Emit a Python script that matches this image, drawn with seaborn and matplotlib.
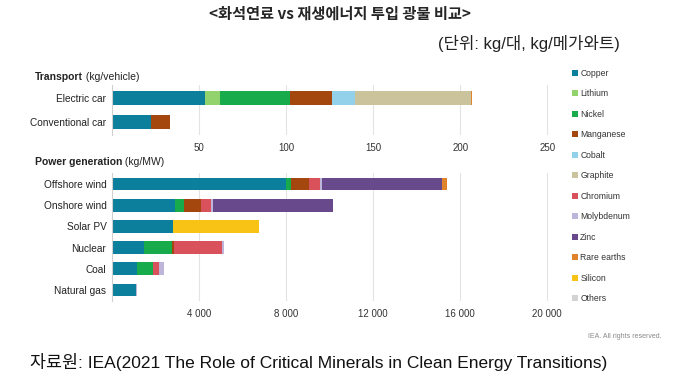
import numpy as np
import seaborn as sns
import matplotlib.pyplot as plt
from matplotlib.patches import Patch
from matplotlib.ticker import FuncFormatter

sns.set_theme(style='white')
plt.rcParams['font.family'] = ['Liberation Sans', 'Noto Sans CJK KR', 'DejaVu Sans']

minerals = ['Copper', 'Lithium', 'Nickel', 'Manganese', 'Cobalt', 'Graphite',
            'Chromium', 'Molybdenum', 'Zinc', 'Rare earths', 'Silicon', 'Others']
mineral_colors = ['#0b7f9b', '#92d36e', '#17ab4b', '#a3470f', '#92d1e9', '#cbc39b',
                  '#d9515b', '#bdb6da', '#684a8c', '#e0832c', '#f8c315', '#d3d3d3']

# Transport (kg/vehicle)
transport_cats = ['Electric car', 'Conventional car']
transport = {
    'Copper': [53.2, 22.3],
    'Lithium': [8.9, 0],
    'Nickel': [39.9, 0],
    'Manganese': [24.5, 11.2],
    'Cobalt': [13.3, 0],
    'Graphite': [66.3, 0],
    'Rare earths': [0.8, 0],
}

# Power generation (kg/MW)
power_cats = ['Offshore wind', 'Onshore wind', 'Solar PV', 'Nuclear', 'Coal', 'Natural gas']
power = {
    'Copper': [8000, 2900, 2822, 1473, 1150, 1100],
    'Nickel': [240, 404, 0, 1297, 721, 16],
    'Manganese': [790, 780, 0, 100, 0, 0],
    'Chromium': [525, 470, 0, 2190, 308, 0],
    'Molybdenum': [109, 99, 0, 70, 200, 30],
    'Zinc': [5500, 5500, 0, 0, 0, 0],
    'Rare earths': [239, 14, 0, 0, 0, 0],
    'Silicon': [0, 0, 3928, 0, 0, 0],
}

transport_ticks = [50, 100, 150, 200, 250]
power_ticks = [4000, 8000, 12000, 16000, 20000]

palette = dict(zip(minerals, mineral_colors))


def draw_stack(ax, cats, parts, bar_w):
    # cumulative totals, drawn longest first so shorter ones sit on top
    cum = np.zeros(len(cats))
    layers = []
    for m in minerals:
        if m in parts:
            cum = cum + np.array(parts[m], dtype=float)
            layers.append((m, cum.copy()))
    for m, c in reversed(layers):
        sns.barplot(x=c, y=cats, color=palette[m], saturation=1, width=bar_w,
                    orient='h', linewidth=0, edgecolor='none', ax=ax)
    ax.set_xlabel('')
    ax.set_ylabel('')


def style_axis(ax, ticks, xmax, fmt=None):
    ax.set_xlim(0, xmax)
    ax.set_xticks(ticks)
    if fmt:
        ax.xaxis.set_major_formatter(FuncFormatter(fmt))
    ax.grid(axis='x', color='#e3e3e3', lw=0.8)
    ax.grid(axis='y', visible=False)
    ax.set_axisbelow(True)
    for s in ['top', 'right', 'bottom']:
        ax.spines[s].set_visible(False)
    ax.spines['left'].set_color('#cfcfcf')
    ax.spines['left'].set_linewidth(0.8)
    ax.tick_params(axis='x', length=0, pad=6, labelsize=7, labelcolor='#333333')
    ax.tick_params(axis='y', length=0, pad=4, labelsize=7.3, labelcolor='#222222')


fig = plt.figure(figsize=(6.8, 3.9), dpi=100)
ax1 = fig.add_axes([112 / 680, 1 - 135 / 390, 444 / 680, 50 / 390])
ax2 = fig.add_axes([112 / 680, 1 - 301 / 390, 444 / 680, 128 / 390])

draw_stack(ax1, transport_cats, transport, 0.58)
style_axis(ax1, transport_ticks, 255)
ax1.set_ylim(1.54, -0.54)

draw_stack(ax2, power_cats, power, 0.6)
style_axis(ax2, power_ticks, 20400, lambda v, p: f'{int(v):,}'.replace(',', ' '))
ax2.set_ylim(5.52, -0.52)

# section headers
t1 = fig.text(35 / 680, 1 - 77 / 390, 'Transport', fontsize=7.5, fontweight='bold',
              va='center', color='#222222')
ax1.annotate(' (kg/vehicle)', xy=(1, 0.5), xycoords=t1, va='center', fontsize=7.5,
             color='#222222')
t2 = fig.text(35 / 680, 1 - 162 / 390, 'Power generation', fontsize=7.5,
              fontweight='bold', va='center', color='#222222')
ax2.annotate(' (kg/MW)', xy=(1, 0.5), xycoords=t2, va='center', fontsize=7.5,
             color='#222222')

# legend
handles = [Patch(facecolor=c, edgecolor='none') for c in mineral_colors]
fig.legend(handles, minerals, loc='upper left', bbox_to_anchor=(572 / 680, 1 - 69 / 390),
           frameon=False, fontsize=6.2, handlelength=0.7, handleheight=0.7,
           handletextpad=0.25, labelspacing=1.33, borderaxespad=0, borderpad=0,
           labelcolor='#333333')

# titles and notes
fig.text(0.5, 1 - 14 / 390, '<화석연료 vs 재생에너지 투입 광물 비교>', ha='center',
         va='center', fontsize=11, fontweight='bold',
         family=['Noto Sans CJK KR', 'DejaVu Sans'])
fig.text(620 / 680, 1 - 43 / 390, '(단위: kg/대, kg/메가와트)', ha='right', va='center',
         fontsize=12, color='#222222', family=['Liberation Sans', 'Noto Sans CJK KR'])
fig.text(662 / 680, 1 - 336 / 390, 'IEA. All rights reserved.', ha='right', va='center',
         fontsize=5, color='#888888')
fig.text(30 / 680, 1 - 362 / 390,
         '자료원: IEA(2021 The Role of Critical Minerals in Clean Energy Transitions)',
         ha='left', va='center', fontsize=12.5, color='#111111',
         family=['Liberation Sans', 'Noto Sans CJK KR'])

fig.savefig('out.png', dpi=100, facecolor='white')
